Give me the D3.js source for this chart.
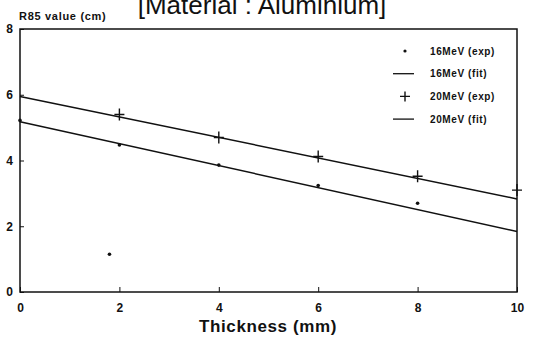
<!DOCTYPE html>
<html>
<head>
<meta charset="utf-8">
<script src="https://cdn.jsdelivr.net/npm/d3@7"></script>
<style>
  body { margin: 0; background: #fff; }
  text { font-family: "Liberation Sans", Arial, sans-serif; fill: #111; }
  .tick-label { font-size: 12px; font-weight: bold; }
  .legend { font-size: 10px; font-weight: bold; letter-spacing: 0.6px; }
</style>
</head>
<body>
<svg width="542" height="341"></svg>
<script>
// values
var thickness = [0, 2, 4, 6, 8, 10];
var exp16 = [[0, 5.22], [2, 4.47], [4, 3.86], [6, 3.24], [8, 2.70], [1.8, 1.15]];
var fit16 = [[0, 5.18], [10, 1.84]];
var exp20 = [[2, 5.40], [4, 4.70], [6, 4.12], [8, 3.52], [10, 3.10]];
var fit20 = [[0, 5.95], [10, 2.83]];
var yTicks = [0, 2, 4, 6, 8];
var legendItems = ["16MeV (exp)", "16MeV (fit)", "20MeV (exp)", "20MeV (fit)"];

var margin = {top: 29, right: 25, bottom: 49, left: 20},
    width = 542 - margin.left - margin.right,
    height = 341 - margin.top - margin.bottom;

var svg = d3.select("svg")
  .append("g")
  .attr("transform", "translate(" + margin.left + "," + margin.top + ")");

var x = d3.scaleLinear().domain([0, 10]).range([0, width]);
var y = d3.scaleLinear().domain([0, 8]).range([height, 0]);

// frame
svg.append("rect")
  .attr("width", width)
  .attr("height", height)
  .attr("fill", "none")
  .attr("stroke", "#111")
  .attr("stroke-width", 1.5);

// axes - ticks pointing inward
var xAxis = d3.axisBottom(x).tickValues(thickness).tickSize(-5).tickFormat(d3.format("d"));
var gx = svg.append("g").attr("transform", "translate(0," + height + ")").call(xAxis);
gx.select(".domain").remove();
gx.selectAll("line").attr("stroke", "#111");
gx.selectAll("text").attr("class", "tick-label").attr("dy", "1.45em").attr("font-family", null).attr("font-size", null);

var yAxis = d3.axisLeft(y).tickValues(yTicks).tickSize(-4);
var gy = svg.append("g").call(yAxis);
gy.select(".domain").remove();
gy.selectAll("line").attr("stroke", "#111");
gy.selectAll("text").attr("class", "tick-label").attr("x", -7).attr("font-family", null).attr("font-size", null);

// fit lines
var line = d3.line().x(function(d){ return x(d[0]); }).y(function(d){ return y(d[1]); });
[fit16, fit20].forEach(function(f) {
  svg.append("path")
    .attr("d", line(f))
    .attr("fill", "none")
    .attr("stroke", "#111")
    .attr("stroke-width", 1.5);
});

// 16MeV points
svg.selectAll(".dot")
  .data(exp16)
  .enter()
  .append("circle")
  .attr("class", "dot")
  .attr("cx", function(d){ return x(d[0]); })
  .attr("cy", function(d){ return y(d[1]); })
  .attr("r", 1.8)
  .attr("fill", "#111");

// 20MeV crosses
svg.selectAll(".cross")
  .data(exp20)
  .enter()
  .append("path")
  .attr("class", "cross")
  .attr("d", function(d){
    var cx = x(d[0]), cy = y(d[1]);
    return "M" + (cx - 5) + "," + cy + "H" + (cx + 5) + "M" + cx + "," + (cy - 6) + "V" + (cy + 6);
  })
  .attr("stroke", "#111")
  .attr("stroke-width", 1.4);

// legend
var lg = svg.append("g").attr("transform", "translate(373,22)");
legendItems.forEach(function(label, i) {
  var ly = i * 22.7;
  if (i == 0) {
    lg.append("circle").attr("cx", 12).attr("cy", ly).attr("r", 1.6).attr("fill", "#111");
  } else if (i == 2) {
    lg.append("path").attr("d", "M7," + ly + "H17M12," + (ly - 5) + "V" + (ly + 5))
      .attr("stroke", "#111").attr("stroke-width", 1.4);
  } else {
    lg.append("line").attr("x1", 0).attr("x2", 21).attr("y1", ly).attr("y2", ly)
      .attr("stroke", "#111").attr("stroke-width", 1.3);
  }
  lg.append("text").attr("class", "legend").attr("x", 37).attr("y", ly + 3.5).text(label);
});

// titles
d3.select("svg").append("text")
  .attr("x", 262)
  .attr("y", 14)
  .attr("text-anchor", "middle")
  .attr("font-size", "26px")
  .text("[Material : Aluminium]");

d3.select("svg").append("text")
  .attr("x", 19)
  .attr("y", 20)
  .attr("font-size", "11px")
  .attr("font-weight", "bold")
  .attr("letter-spacing", "0.7px")
  .text("R85 value (cm)");

d3.select("svg").append("text")
  .attr("x", 268)
  .attr("y", 332)
  .attr("text-anchor", "middle")
  .attr("font-size", "17px")
  .attr("font-weight", "bold")
  .attr("letter-spacing", "0.6px")
  .text("Thickness (mm)");
</script>
</body>
</html>
